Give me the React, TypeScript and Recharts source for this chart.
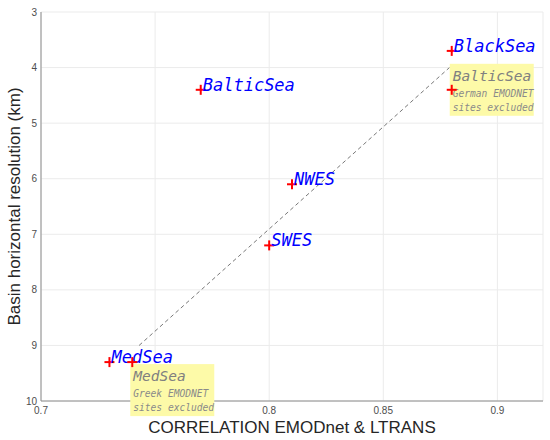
import {
  ScatterChart,
  Scatter,
  XAxis,
  YAxis,
  CartesianGrid,
  ReferenceLine,
} from "recharts";

// basin name, model/EMODnet correlation, horizontal resolution (km)
const regions = ["BlackSea", "BalticSea", "NWES", "SWES", "MedSea"];
const correlation = [0.88, 0.77, 0.81, 0.8, 0.73];
const resolution = [3.7, 4.4, 6.1, 7.2, 9.3];

// same basins recomputed with some EMODnet sites excluded
const excludedRegions = ["BalticSea", "MedSea"];
const excludedNotes = ["German EMODNET", "Greek EMODNET"];
const excludedCorrelation = [0.88, 0.74];
const excludedResolution = [4.4, 9.3];

// dashed trend line end points
const trendCorrelation = [0.743, 0.879];
const trendResolution = [9.0, 4.0];

const xTicks = [0.7, 0.75, 0.8, 0.85, 0.9];
const yTicks = [3, 4, 5, 6, 7, 8, 9, 10];

const regionData = regions.map((region, i) => ({
  region,
  x: correlation[i],
  y: resolution[i],
}));

const excludedData = excludedRegions.map((region, i) => ({
  region,
  note: excludedNotes[i],
  x: excludedCorrelation[i],
  y: excludedResolution[i],
}));

const MONO = "DejaVu Sans Mono";
const SANS = "Liberation Sans, Arial, sans-serif";
const AXIS = "#8c8c8c";

const Plus = ({ cx, cy }: { cx: number; cy: number }) => (
  <g>
    <line x1={cx - 5} x2={cx + 5} y1={cy} y2={cy} stroke="#ff0000" strokeWidth={2} />
    <line x1={cx} x2={cx} y1={cy - 5} y2={cy + 5} stroke="#ff0000" strokeWidth={2} />
  </g>
);

const RegionPoint = (props: any) => {
  const { cx, cy, payload } = props;
  return (
    <g>
      <Plus cx={cx} cy={cy} />
      <text
        x={cx + 2}
        y={cy + 1}
        fill="#0000ff"
        fontFamily={MONO}
        fontStyle="italic"
        fontSize={17}
      >
        {payload.region}
      </text>
    </g>
  );
};

// box sits above the point for the Baltic, below it for the Med
const boxOffset: Record<string, number> = { BalticSea: -26, MedSea: 2 };

const ExcludedPoint = (props: any) => {
  const { cx, cy, payload } = props;
  const left = cx - 2;
  const top = cy + (boxOffset[payload.region] ?? 2);
  return (
    <g>
      <rect x={left} y={top} width={84} height={52} fill="#fdfaa8" />
      <text x={left + 3} y={top + 17} fill="#808080" fontFamily={MONO} fontStyle="italic" fontSize={14.5}>
        {payload.region}
      </text>
      <text x={left + 3} y={top + 33} fill="#8a8a8a" fontFamily={MONO} fontStyle="italic" fontSize={9.6}>
        {payload.note}
      </text>
      <text x={left + 3} y={top + 47} fill="#8a8a8a" fontFamily={MONO} fontStyle="italic" fontSize={9.6}>
        sites excluded
      </text>
      <Plus cx={cx} cy={cy} />
    </g>
  );
};

const YTitle = (props: any) => {
  const vb = props.viewBox;
  const cy = vb.y + vb.height / 2;
  return (
    <text
      x={20}
      y={cy}
      transform={`rotate(-90, 20, ${cy})`}
      textAnchor="middle"
      fontFamily={SANS}
      fontSize={17}
      fill="#262626"
    >
      Basin horizontal resolution (km)
    </text>
  );
};

const tickStyle = { fill: "#4d4d4d", fontSize: 10, fontFamily: SANS };

export default function App() {
  return (
    <div style={{ position: "absolute", left: 0, top: 0, width: 550, height: 440, background: "#fff" }}>
      <ScatterChart width={550} height={440} margin={{ top: 12, right: 7, bottom: 0, left: 0 }}>
        <CartesianGrid stroke="#ebebeb" />
        <XAxis
          type="number"
          dataKey="x"
          domain={[0.7, 0.92]}
          ticks={xTicks}
          interval={0}
          height={39}
          tickSize={0}
          tickMargin={6}
          tick={tickStyle}
          stroke={AXIS}
          tickFormatter={(v) => String(v)}
          label={{
            value: "CORRELATION EMODnet & LTRANS",
            position: "insideBottom",
            offset: 7,
            fontSize: 17,
            fontFamily: SANS,
            fill: "#262626",
          }}
        />
        <XAxis
          xAxisId="top"
          orientation="top"
          type="number"
          domain={[0.7, 0.92]}
          ticks={xTicks}
          interval={0}
          height={0}
          mirror
          tickSize={5}
          tick={false}
          stroke={AXIS}
        />
        <YAxis
          type="number"
          dataKey="y"
          reversed
          domain={[3, 10]}
          ticks={yTicks}
          interval={0}
          width={41}
          tickSize={0}
          tickMargin={4}
          tick={tickStyle}
          stroke={AXIS}
          label={<YTitle />}
        />
        <YAxis
          yAxisId="right"
          orientation="right"
          type="number"
          reversed
          domain={[3, 10]}
          ticks={yTicks}
          interval={0}
          width={0}
          mirror
          tickSize={5}
          tick={false}
          stroke={AXIS}
        />
        <ReferenceLine
          segment={[
            { x: trendCorrelation[0], y: trendResolution[0] },
            { x: trendCorrelation[1], y: trendResolution[1] },
          ]}
          stroke="#555"
          strokeWidth={0.8}
          strokeDasharray="4 3"
        />
        <Scatter data={regionData} shape={RegionPoint} isAnimationActive={false} />
        {/* the note boxes sit over the axis, as in the original figure */}
        <Scatter
          data={excludedData}
          shape={ExcludedPoint}
          isAnimationActive={false}
          {...({ zIndex: 3000 } as any)}
        />
      </ScatterChart>
    </div>
  );
}
